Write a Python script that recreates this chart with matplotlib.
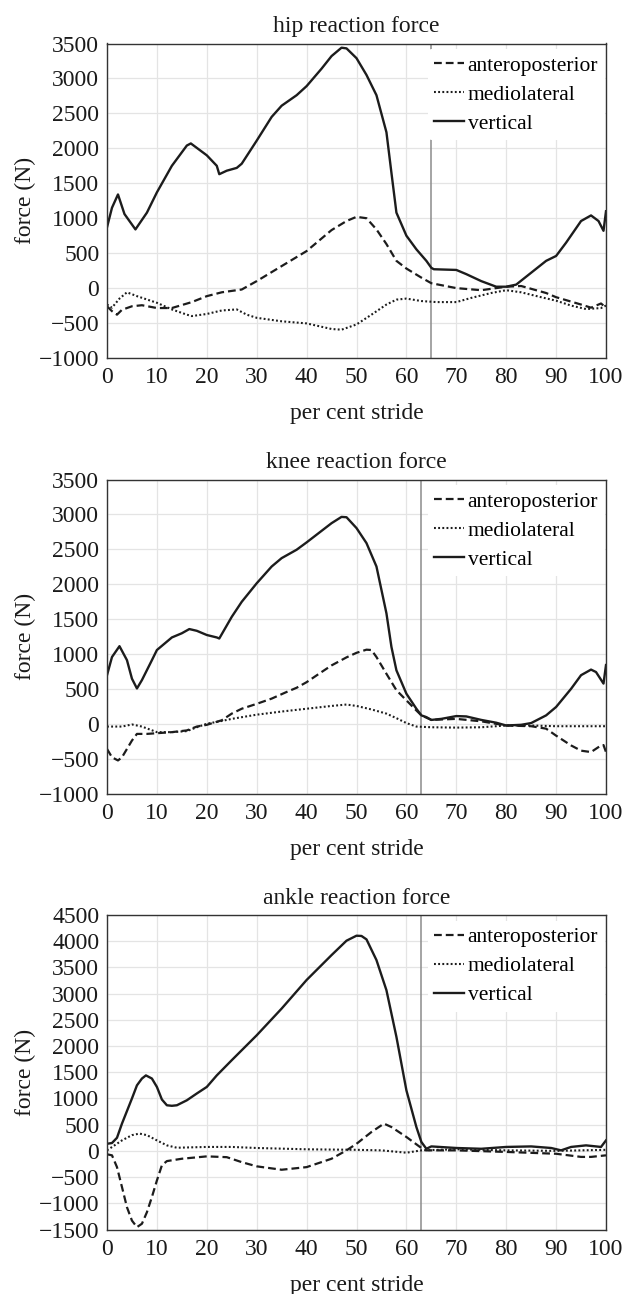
import matplotlib
matplotlib.use("Agg")
import matplotlib.pyplot as plt

plt.rcParams['font.family'] = ['Liberation Serif', 'DejaVu Serif']
plt.rcParams['axes.unicode_minus'] = True

# ---------------- data ----------------
# hip
hip_v_x = [0, 1, 2.2, 3.5, 4, 5.7, 8, 10, 13, 16, 16.8, 20, 22, 22.5, 24, 26, 27, 30, 33, 35, 38, 40, 43, 45, 47, 48, 50,
           52, 54, 56, 57, 58, 60, 62, 64, 65, 65.5, 70, 72, 75, 78, 80, 82, 85, 88, 90, 92, 95, 97, 98.5, 99.5, 100]
hip_v_y = [870, 1150, 1340, 1060, 1010, 840, 1080, 1370, 1750, 2040, 2070, 1900, 1750, 1630, 1680, 1720, 1780, 2110, 2450,
           2610, 2760, 2890, 3140, 3320, 3440, 3430, 3290, 3050, 2760, 2230, 1650, 1080, 750, 555, 390, 290, 270, 260, 200,
           100, 20, 20, 50, 220, 390, 460, 650, 960, 1040, 960, 820, 1100]
hip_ap_x = [0, 1, 2, 3, 5, 7, 10, 13, 17, 20, 23, 26, 27, 30, 35, 40, 45, 48, 50, 52, 54, 56, 58, 60, 63, 65, 70, 75, 80, 83,
            88, 90, 95, 97, 99, 100]
hip_ap_y = [-260, -330, -380, -310, -260, -245, -285, -285, -200, -115, -60, -30, -20, 100, 315, 530, 830, 960, 1020, 1000,
            840, 630, 390, 280, 150, 70, 0, -30, 20, 30, -70, -130, -235, -280, -220, -280]
hip_ml_x = [0, 1, 2.5, 4, 6, 10, 13, 16, 17, 20, 23, 26, 28, 30, 35, 40, 45, 47, 50, 53, 56, 58, 60, 63, 66, 70, 73, 77, 80,
            83, 87, 90, 93, 96, 99, 100]
hip_ml_y = [-235, -280, -150, -60, -115, -210, -305, -380, -400, -370, -320, -305, -380, -425, -475, -505, -585, -595, -520,
            -380, -235, -165, -150, -185, -200, -200, -140, -70, -30, -60, -130, -180, -250, -300, -285, -250]

# knee
knee_v_x = [0, 1, 2.5, 4, 5, 6, 7, 9, 10, 13, 15, 16.5, 18, 20, 22, 22.5, 25, 27, 30, 33, 35, 38, 40, 43, 45, 47, 48, 50, 52,
            54, 56, 57, 58, 60, 62, 63, 64, 65, 67, 70, 72, 75, 78, 80, 83, 85, 88, 90, 93, 95, 97, 98, 99.5, 100]
knee_v_y = [700, 960, 1115, 915, 650, 510, 630, 915, 1060, 1240, 1300, 1360, 1335, 1275, 1240, 1225, 1535, 1750, 2015, 2255,
            2375, 2495, 2600, 2765, 2875, 2965, 2960, 2805, 2590, 2255, 1585, 1105, 770, 435, 220, 125, 100, 60, 75, 115,
            110, 60, 20, -20, -10, 15, 125, 245, 505, 700, 780, 745, 580, 845]
knee_ap_x = [0, 1, 2.2, 3, 5, 6, 8, 10, 13, 16, 18, 20, 23, 25, 27, 30, 33, 36, 38, 40, 43, 45, 48, 50, 52, 53, 54, 56, 58, 60,
             62, 63, 65, 70, 75, 80, 85, 88, 90, 93, 95, 97, 99, 99.5, 100]
knee_ap_y = [-355, -475, -520, -475, -235, -140, -140, -130, -115, -90, -35, -10, 55, 150, 220, 290, 365, 460, 520, 600, 745,
             840, 955, 1020, 1065, 1060, 960, 720, 485, 340, 195, 125, 60, 75, 40, -20, -30, -65, -165, -305, -380, -400,
             -305, -300, -400]
knee_ml_x = [0, 3, 5, 7, 10, 13, 16, 18, 20, 23, 25, 30, 35, 40, 45, 48, 50, 53, 56, 58, 60, 62, 65, 70, 75, 80, 85, 90, 95, 100]
knee_ml_y = [-35, -35, -5, -35, -115, -115, -100, -45, 5, 45, 75, 135, 180, 220, 260, 280, 260, 210, 150, 85, 15, -35, -45,
             -50, -45, -20, -20, -30, -30, -30]

# ankle
ank_v_x = [0, 1, 2, 3, 5, 6, 7, 7.8, 9, 10, 11, 12, 13, 14, 16, 18, 20, 22, 25, 30, 35, 40, 45, 48, 50, 51, 52, 54, 56, 58,
           60, 62, 63, 64, 65, 70, 75, 80, 85, 89, 91, 93, 96, 99, 100]
ank_v_y = [135, 150, 250, 520, 1000, 1250, 1380, 1440, 1380, 1220, 980, 870, 860, 870, 965, 1095, 1220, 1440, 1730, 2205,
           2715, 3260, 3735, 4010, 4105, 4100, 4035, 3640, 3065, 2175, 1155, 455, 170, 40, 85, 55, 40, 75, 85, 55, 10, 75,
           105, 75, 200]
ank_ap_x = [0, 1, 2, 3, 4, 5, 6, 7, 8, 9, 10, 11, 12, 15, 20, 24, 27, 30, 35, 40, 45, 48, 50, 53, 55.5, 57, 60, 63, 64, 70,
            80, 90, 95, 97, 100]
ank_ap_y = [-65, -85, -310, -690, -1075, -1330, -1455, -1390, -1170, -880, -565, -275, -195, -150, -105, -120, -215, -295,
            -360, -310, -150, 10, 135, 360, 520, 455, 265, 55, 10, 10, -20, -55, -115, -115, -85]
ank_ml_x = [0, 3, 5, 6.5, 8, 10, 12, 14, 20, 25, 30, 40, 50, 55, 60, 63, 70, 80, 90, 100]
ank_ml_y = [10, 200, 300, 330, 300, 200, 105, 60, 75, 75, 55, 30, 20, 10, -35, 10, 30, 10, 0, 20]

titles = ["hip reaction force", "knee reaction force", "ankle reaction force"]
series_labels = ["anteroposterior", "mediolateral", "vertical"]
x_ticks = [0, 10, 20, 30, 40, 50, 60, 70, 80, 90, 100]
y_ranges = [(-1000, 3500), (-1000, 3500), (-1500, 4500)]
toe_off = [65, 63, 63]

panels = [
    ((hip_ap_x, hip_ap_y), (hip_ml_x, hip_ml_y), (hip_v_x, hip_v_y)),
    ((knee_ap_x, knee_ap_y), (knee_ml_x, knee_ml_y), (knee_v_x, knee_v_y)),
    ((ank_ap_x, ank_ap_y), (ank_ml_x, ank_ml_y), (ank_v_x, ank_v_y)),
]

# ---------------- figure ----------------
W, H = 625, 1294
fig = plt.figure(figsize=(W / 100, H / 100), dpi=100)
left, right = 107, 606
tops = [43.5, 479.5, 915]
height = 314.5

fs = 17
lfs = 15.5
lc = '#1c1c1c'
styles = [
    dict(linestyle=(0, (3.5, 1.8)), lw=1.6),
    dict(linestyle=(0, (0.9, 1.1)), lw=1.5),
    dict(linestyle='-', lw=1.7),
]

for i in range(3):
    ax = fig.add_axes([left / W, 1 - (tops[i] + height) / H, (right - left) / W, height / H])
    lines = []
    for (xs, ys), st, lab in zip(panels[i], styles, series_labels):
        ln, = ax.plot(xs, ys, color=lc, label=lab, zorder=3, **st)
        lines.append(ln)
    ax.axvline(toe_off[i], color='#8c8c8c', lw=1.1, zorder=2)
    ax.set_xlim(0, 100)
    ax.set_ylim(*y_ranges[i])
    ax.set_xticks(x_ticks)
    ax.set_yticks(range(y_ranges[i][0], y_ranges[i][1] + 1, 500))
    ax.grid(True, color='#e4e4e4', lw=0.9, zorder=0)
    ax.set_axisbelow(True)
    for s in ax.spines.values():
        s.set_color('#333333')
        s.set_linewidth(1.0)
        s.set_zorder(6)
    ax.tick_params(length=0, labelsize=fs, colors='#1a1a1a')
    ax.tick_params(axis='x', pad=6.5)
    ax.tick_params(axis='y', pad=5.5)
    ax.set_title(titles[i], fontsize=fs, pad=8, color='#1a1a1a')
    ax.set_xlabel("per cent stride", fontsize=fs, labelpad=11, color='#1a1a1a')
    ax.set_ylabel("force (N)", fontsize=fs, labelpad=2, color='#1a1a1a')
    leg = ax.legend(handles=lines, loc='upper right', bbox_to_anchor=(0.997, 0.982), frameon=True,
                    fontsize=lfs, handlelength=1.4, handletextpad=0.15, labelspacing=0.42,
                    borderpad=0.3, borderaxespad=0.0)
    fr = leg.get_frame()
    fr.set_facecolor('white')
    fr.set_edgecolor('none')
    fr.set_alpha(1.0)
    leg.set_zorder(4)

fig.savefig("out.png", dpi=100)
